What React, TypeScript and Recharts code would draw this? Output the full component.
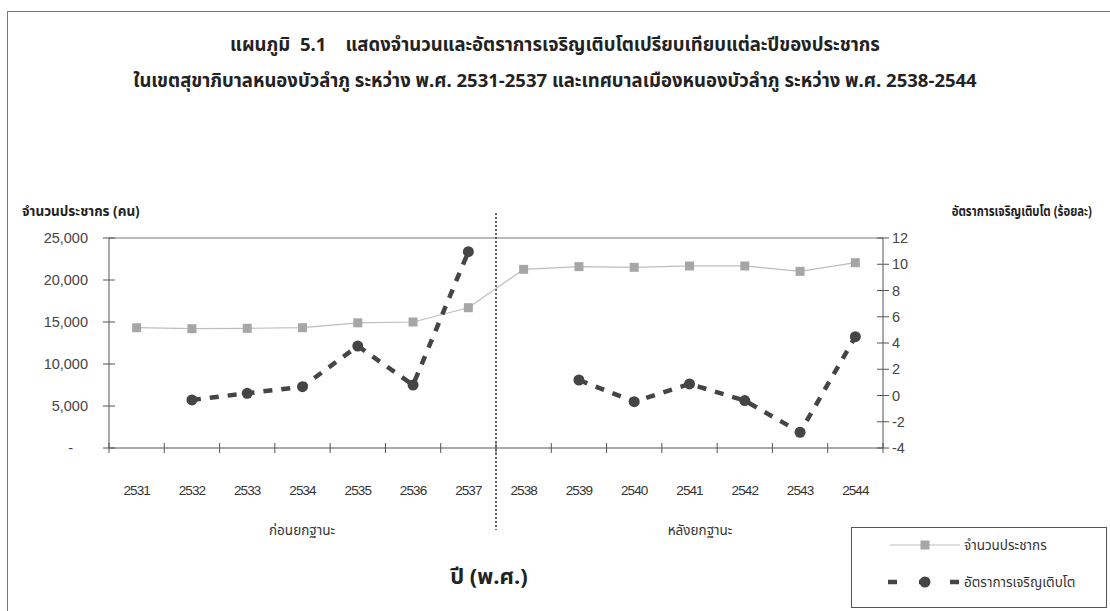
import React from 'react';
import {
  ComposedChart, Line, XAxis, YAxis, ReferenceLine,
} from 'recharts';

const years = [2531, 2532, 2533, 2534, 2535, 2536, 2537, 2538, 2539, 2540, 2541, 2542, 2543, 2544];
const population = [14320, 14200, 14250, 14320, 14900, 15000, 16700, 21270, 21590, 21510, 21670, 21670, 21030, 22060];
const growthRate: (number | null)[] = [null, -0.34, 0.17, 0.67, 3.77, 0.8, 10.96, null, 1.18, -0.47, 0.88, -0.39, -2.8, 4.48];
const leftTicks = [0, 5000, 10000, 15000, 20000, 25000];
const rightTicks = [-4, -2, 0, 2, 4, 6, 8, 10, 12];
const lastYearBefore = 2537;

const popName = 'จำนวนประชากร';
const rateName = 'อัตราการเจริญเติบโต';

const data = years.map((y, i) => ({ year: y, pop: population[i], rate: growthRate[i] }));

const THAI = "'Noto Sans Thai', 'Loma', 'Garuda', 'Norasi', 'Tlwg Typo', 'DejaVu Sans', sans-serif";
const NUM = "'Liberation Sans', Arial, sans-serif";
const NARROW = "'Liberation Sans Narrow', 'Liberation Sans', Arial, sans-serif";

const LeftTick = (props: any) => {
  const { x, y, payload } = props;
  const v = payload.value as number;
  return (
    <g>
      <line x1={x + 15} x2={x + 27} y1={y} y2={y} stroke="#555" strokeWidth={1} />
      <text x={v === 0 ? x - 15 : x} y={y} dy={5} textAnchor="end" fontFamily={NUM} fontSize={14.5} fill="#444">
        {v === 0 ? '-' : v.toLocaleString('en-US')}
      </text>
    </g>
  );
};

const RightTick = (props: any) => {
  const { x, y, payload } = props;
  return (
    <g>
      <line x1={x - 14} x2={x - 2} y1={y} y2={y} stroke="#555" strokeWidth={1} />
      <text x={x + 1} y={y} dy={5} textAnchor="start" fontFamily={NUM} fontSize={14.5} fill="#444">
        {payload.value}
      </text>
    </g>
  );
};

const YearTick = (props: any) => {
  const { x, y, payload, width } = props;
  const half = typeof payload.offset === 'number' && payload.offset > 0 ? payload.offset : (width || 774) / (years.length * 2);
  const isLast = payload.value === years[years.length - 1];
  return (
    <g>
      <line x1={x - half} x2={x - half} y1={y - 5} y2={y + 5} stroke="#555" strokeWidth={1} />
      {isLast && <line x1={x + half} x2={x + half} y1={y - 5} y2={y + 5} stroke="#555" strokeWidth={1} />}
      <text x={x} y={y + 42} dy={5} textAnchor="middle" fontFamily={NARROW} fontSize={13.5} fill="#333" letterSpacing={-0.9}>
        {payload.value}
      </text>
    </g>
  );
};

const SquareDot = (props: any) => {
  const { cx, cy } = props;
  if (cx == null || cy == null) return null;
  return <rect x={cx - 4.5} y={cy - 4.5} width={9} height={9} fill="#a6a6a6" />;
};

const RoundDot = (props: any) => {
  const { cx, cy, value } = props;
  if (cx == null || cy == null || value == null) return null;
  return <circle cx={cx} cy={cy} r={5.5} fill="#454545" />;
};

const DividerShape = (props: any) => {
  const { x1, x2, y1, y2 } = props;
  const top = Math.min(y1, y2);
  const bottom = Math.max(y1, y2);
  return (
    <line x1={x1} x2={x2} y1={top - 25} y2={bottom + 82} stroke="#333" strokeWidth={1.5} strokeDasharray="2 2" />
  );
};

const LegendBox = () => (
  <div style={{ position: 'absolute', left: 851, top: 527, width: 256, height: 81, border: '1px solid #555', boxSizing: 'border-box', background: '#fff' }}>
    <svg width={256} height={81} style={{ position: 'absolute', left: -1, top: -1 }}>
      <line x1={39} x2={109} y1={18} y2={18} stroke="#bdbdbd" strokeWidth={1.2} />
      <rect x={69.5} y={13.5} width={9} height={9} fill="#a6a6a6" />
      <line x1={37} x2={109} y1={55} y2={55} stroke="#454545" strokeWidth={4.5} strokeDasharray="9 22" />
      <circle cx={74} cy={55} r={5.5} fill="#454545" />
      <text x={113} y={23} fontFamily={THAI} fontSize={13.5} fill="#333">{popName}</text>
      <text x={113} y={60} fontFamily={THAI} fontSize={13.5} fill="#333">{rateName}</text>
    </svg>
  </div>
);

export default function App() {
  return (
    <div style={{ position: 'absolute', left: 0, top: 0, width: 1110, height: 611, background: '#fff', overflow: 'hidden' }}>
      <div style={{ position: 'absolute', left: 7, top: 11, width: 1110, height: 611, borderLeft: '1px solid #777', borderTop: '1px solid #777' }} />
      <div style={{ position: 'absolute', left: 0, top: 45, width: 1110, transform: 'translateY(-50%)', textAlign: 'center', fontFamily: THAI, fontWeight: 'bold', fontSize: 18.5, color: '#222', whiteSpace: 'nowrap' }}>
        แผนภูมิ&nbsp;&nbsp;5.1&nbsp;&nbsp;&nbsp;&nbsp;แสดงจำนวนและอัตราการเจริญเติบโตเปรียบเทียบแต่ละปีของประชากร
      </div>
      <div style={{ position: 'absolute', left: 0, top: 81, width: 1110, transform: 'translateY(-50%)', textAlign: 'center', fontFamily: THAI, fontWeight: 'bold', fontSize: 18.5, color: '#222', whiteSpace: 'nowrap' }}>
        ในเขตสุขาภิบาลหนองบัวลำภู ระหว่าง พ.ศ. 2531-2537 และเทศบาลเมืองหนองบัวลำภู ระหว่าง พ.ศ. 2538-2544
      </div>
      <div style={{ position: 'absolute', left: 22, top: 212, transform: 'translateY(-50%)', fontFamily: THAI, fontWeight: 'bold', fontSize: 13.5, color: '#222', whiteSpace: 'nowrap' }}>
        จำนวนประชากร (คน)
      </div>
      <div style={{ position: 'absolute', right: 18, top: 212, transform: 'translateY(-50%) scaleX(0.84)', transformOrigin: 'right center', fontFamily: THAI, fontWeight: 'bold', fontSize: 13.5, color: '#222', whiteSpace: 'nowrap' }}>
        อัตราการเจริญเติบโต (ร้อยละ)
      </div>
      <div style={{ position: 'absolute', left: 302, top: 531, transform: 'translate(-50%, -50%)', fontFamily: THAI, fontSize: 13.5, color: '#333', whiteSpace: 'nowrap' }}>
        ก่อนยกฐานะ
      </div>
      <div style={{ position: 'absolute', left: 700, top: 531, transform: 'translate(-50%, -50%)', fontFamily: THAI, fontSize: 13.5, color: '#333', whiteSpace: 'nowrap' }}>
        หลังยกฐานะ
      </div>
      <div style={{ position: 'absolute', left: 489, top: 577, transform: 'translate(-50%, -50%)', fontFamily: THAI, fontWeight: 'bold', fontSize: 22, color: '#222', whiteSpace: 'nowrap' }}>
        ปี (พ.ศ.)
      </div>
      <div style={{ position: 'absolute', left: 0, top: 0 }}>
        <ComposedChart
          width={1110}
          height={611}
          data={data}
          margin={{ top: 238, right: 127, bottom: 162, left: 9 }}
        >
          <XAxis
            dataKey="year"
            type="category"
            scale="band"
            height={1}
            axisLine={{ stroke: '#555', strokeWidth: 1 }}
            tickLine={false}
            tickSize={0}
            tickMargin={0}
            tick={<YearTick />}
            interval={0}
          />
          <YAxis
            yAxisId="left"
            orientation="left"
            width={100}
            domain={[0, 25000]}
            ticks={leftTicks}
            axisLine={{ stroke: '#555', strokeWidth: 1 }}
            tickLine={false}
            tickSize={6}
            tickMargin={15}
            tick={<LeftTick />}
            interval={0}
          />
          <YAxis
            yAxisId="right"
            orientation="right"
            width={100}
            domain={[-4, 12]}
            ticks={rightTicks}
            axisLine={{ stroke: '#555', strokeWidth: 1 }}
            tickLine={false}
            tickSize={6}
            tickMargin={2}
            tick={<RightTick />}
            interval={0}
          />
          <ReferenceLine yAxisId="left" y={25000} stroke="#777" strokeWidth={1} />
          <ReferenceLine
            yAxisId="left"
            x={lastYearBefore}
            position="end"
            ifOverflow="visible"
            shape={<DividerShape />}
          />
          <Line
            yAxisId="left"
            type="linear"
            dataKey="pop"
            name={popName}
            stroke="#bdbdbd"
            strokeWidth={1.2}
            dot={<SquareDot />}
            activeDot={false}
            isAnimationActive={false}
          />
          <Line
            yAxisId="right"
            type="linear"
            dataKey="rate"
            name={rateName}
            stroke="#454545"
            strokeWidth={4.5}
            strokeDasharray="9 9"
            dot={<RoundDot />}
            activeDot={false}
            isAnimationActive={false}
          />
        </ComposedChart>
      </div>
      <LegendBox />
    </div>
  );
}
